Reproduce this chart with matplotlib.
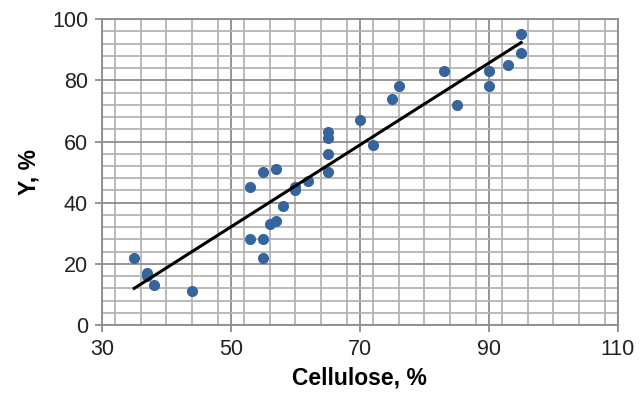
import numpy as np
import matplotlib
matplotlib.use("Agg")
import matplotlib.pyplot as plt
from matplotlib.ticker import MultipleLocator

plt.rcParams['font.family'] = ['Liberation Sans', 'DejaVu Sans']

cellulose = [35, 37, 37, 38, 44, 53, 53, 55, 55, 55, 56, 57, 57, 58, 60, 60, 62,
             65, 65, 65, 65, 70, 72, 75, 76, 83, 85, 90, 90, 93, 95, 95]
yield_pct = [22, 17, 16, 13, 11, 45, 28, 50, 28, 22, 33, 34, 51, 39, 45, 44, 47,
             63, 61, 56, 50, 67, 59, 74, 78, 83, 72, 83, 78, 85, 95, 89]
x_ticks = [30, 50, 70, 90, 110]
y_ticks = [0, 20, 40, 60, 80, 100]

fig = plt.figure(figsize=(6.41, 3.98), dpi=100)
ax = fig.add_axes([0.159, 0.183, 0.805, 0.769])

ax.set_xlim(30, 110)
ax.set_ylim(0, 100)
ax.set_xticks(x_ticks)
ax.set_yticks(y_ticks)
ax.xaxis.set_minor_locator(MultipleLocator(4))
ax.yaxis.set_minor_locator(MultipleLocator(4))
ax.grid(which='major', color='#8c8c8c', linewidth=1.3, zorder=0)
ax.grid(which='minor', color='#b4b4b4', linewidth=1.3, zorder=0)
ax.set_axisbelow(True)
for s in ax.spines.values():
    s.set_color('#8c8c8c')
    s.set_linewidth(1.3)
ax.tick_params(which='major', length=5, width=1.3, color='#8c8c8c',
               labelsize=15.5, pad=5, labelcolor='#222222')
ax.tick_params(which='minor', length=0)

ax.scatter(cellulose, yield_pct, s=64, color='#36649c', zorder=3, linewidths=0)

xa = np.array(cellulose, dtype=float)
coef = np.polyfit(xa, np.array(yield_pct, dtype=float), 1)
xl = np.array([xa.min(), xa.max()])
ax.plot(xl, np.polyval(coef, xl), color='black', linewidth=2.2, zorder=4)

ax.set_xlabel('Cellulose, %', fontsize=16.5, fontweight='bold', labelpad=5)
ax.set_ylabel('Y, %', fontsize=16.5, fontweight='bold', labelpad=8)

fig.savefig('out.png', dpi=100)
